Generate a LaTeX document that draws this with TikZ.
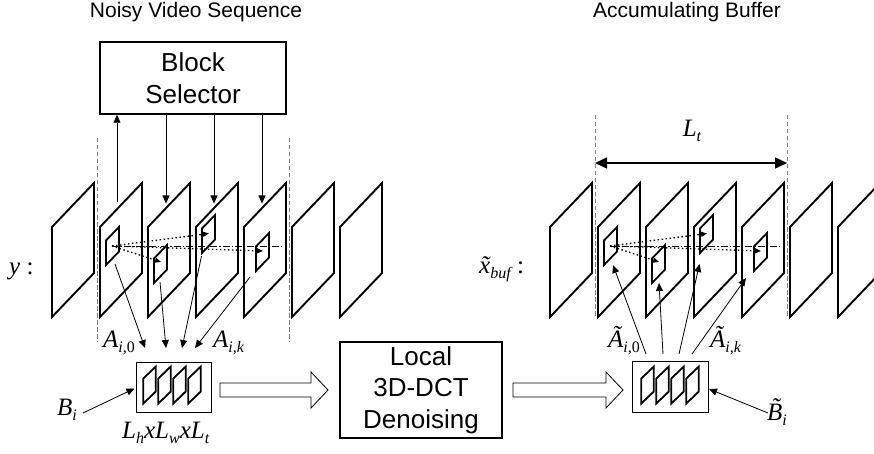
\documentclass[tikz,border=0pt]{standalone}
\usepackage{fontspec}
\setmainfont{Liberation Serif}
\newfontfamily\arialf{Liberation Sans}
\usetikzlibrary{arrows.meta}
\newcommand\Sb[1]{\raisebox{-0.2em}{\fontsize{16}{16}\selectfont #1}}
\begin{document}
\begin{tikzpicture}[x=1pt,y=-1pt,
  frame/.style={line width=1.9pt, line join=miter},
  blk/.style={line width=1.8pt, line join=miter},
  box/.style={draw, line width=1.5pt, font=\arialf\fontsize{26}{31.7}\selectfont, align=center, inner sep=0pt},
  sbox/.style={draw, line width=0.9pt, inner sep=0pt},
  arr/.style={line width=0.8pt, -{Triangle[length=8pt,width=7pt]}},
  dotarr/.style={line width=1.3pt, dash pattern=on 1.5pt off 2.5pt, -{Triangle[length=6pt,width=5pt]}},
  dashdot/.style={line width=0.9pt, dash pattern=on 7pt off 2pt on 1.3pt off 2pt},
  vdash/.style={draw=gray, line width=1pt, dash pattern=on 4.5pt off 2.5pt},
  hollow/.style={draw, line width=0.8pt, fill=white},
  mlab/.style={font=\fontsize{25}{25}\selectfont\itshape, anchor=base west, inner sep=0pt},
  ttl/.style={font=\arialf\fontsize{21}{21}\selectfont, anchor=base, inner sep=0pt},
]
\useasboundingbox (0,0) rectangle (874,454);
\clip (0,0) rectangle (874,454);

% titles
\node[ttl] (t1) at (196,17.5) {Noisy Video Sequence};
\node[ttl] (t2) at (687,17.5) {Accumulating Buffer};

% boxes
\node[box, minimum width=186pt, minimum height=72pt] (bs) at (193,78) {Block\\Selector};
\node[box, minimum width=162pt, minimum height=96pt] (loc) at (421,390) {Local\\3D-DCT\\Denoising};
\node[sbox, minimum width=75pt, minimum height=50pt] (sb) at (173.5,387) {};
\node[sbox, minimum width=76pt, minimum height=51pt] (tb) at (670,386.5) {};

% dashed window lines
\draw[vdash] (97,138) -- (97,342);
\draw[vdash] (289,138) -- (289,342);
\draw[vdash] (595,115) -- (595,318);
\draw[vdash] (787,115) -- (787,318);

% frames
\foreach \k in {0,...,6}{
  \draw[frame] (52+48*\k,317) -- ++(0,-90) -- ++(42,-44) -- ++(0,90) -- cycle;
  \draw[frame] (550+48*\k,317) -- ++(0,-90) -- ++(42,-44) -- ++(0,90) -- cycle;
}

% blocks, trajectories
\foreach \s in {0,498}{
  \foreach \bx/\by in {106/265,154/283,202/253,256/271}{
    \draw[blk] (\bx+\s,\by) -- ++(0,-24.5) -- ++(13,-13.5) -- ++(0,24.5) -- cycle;
  }
  \draw[dashdot] (112+\s,246) -- (282+\s,246);
  \draw[dotarr] (112+\s,246) -- (161+\s,262);
  \draw[dotarr] (112+\s,246) -- (209+\s,233.5);
  \draw[dotarr] (112+\s,246) -- (263+\s,251);
}

% mini frames in the stacks
\foreach \k in {0,...,3}{
  \draw[blk] (143.3+15*\k,403.5) -- ++(0,-25) -- ++(12.5,-12) -- ++(0,25) -- cycle;
  \draw[blk] (641.3+15*\k,403.5) -- ++(0,-25) -- ++(12.5,-12) -- ++(0,25) -- cycle;
}

% block selector arrows
\coordinate (u1) at (117,202);
\coordinate (d1) at (166,203.5);
\coordinate (d2) at (214,203.5);
\coordinate (d3) at (262,203.5);
\draw[arr] (u1) -- (u1 |- bs.south);
\draw[arr] (d1 |- bs.south) -- (d1);
\draw[arr] (d2 |- bs.south) -- (d2);
\draw[arr] (d3 |- bs.south) -- (d3);

% blocks to stack
\coordinate (a1) at (115,264);
\coordinate (a2) at (160,282);
\coordinate (a3) at (201.5,256);
\coordinate (a4) at (250,277);
\draw[arr] (a1) -- (145,348);
\draw[arr] (a2) -- (166,348);
\draw[arr] (a3) -- (182,348);
\draw[arr] (a4) -- (195,348);

% stack to buffer
\coordinate (b1) at (613,265);
\coordinate (b2) at (659,283);
\coordinate (b3) at (699.5,264);
\coordinate (b4) at (746,278);
\draw[arr] (646,354) -- (b1);
\draw[arr] (663,354) -- (b2);
\draw[arr] (679,354) -- (b3);
\draw[arr] (692,354) -- (b4);

% hollow arrows
\draw[hollow] (220,383) -- (311,383) -- (311,372) -- (328,390) -- (311,408) -- (311,397) -- (220,397) -- cycle;
\draw[hollow] (513,383) -- (606,383) -- (606,372) -- (623,390) -- (606,408) -- (606,397) -- (513,397) -- cycle;

% L_t arrow
\draw[line width=1.5pt, {Triangle[length=12pt,width=11pt]}-{Triangle[length=12pt,width=11pt]}] (595,163) -- (787,163);
\node[mlab, anchor=base] (lt) at (692,136.5) {L\Sb{t}};

% labels
\node[mlab] (ly) at (9,274) {y \upshape:};
\node[mlab] (lx) at (479,273) {\~{x}\Sb{buf} \upshape:};
\node[mlab] (la0) at (103,347) {A\Sb{i\upshape{,0}}};
\node[mlab] (lak) at (213,347) {A\Sb{i,k}};
\node[mlab] (lta0) at (608,347) {\~{A}\Sb{i\upshape{,0}}};
\node[mlab] (ltak) at (710,347) {\~{A}\Sb{i,k}};
\node[mlab] (lb) at (57,415) {B\Sb{i}};
\node[mlab] (ltb) at (767,420) {\~{B}\Sb{i}};
\node[mlab] (ldim) at (122,438) {L\Sb{h}xL\Sb{w}xL\Sb{t}};

\coordinate (bi) at (83,413);
\coordinate (tbi) at (768,413);
\draw[arr] (bi) -- (134.5,388.5);
\draw[arr] (tbi) -- (709,389);
\end{tikzpicture}
\end{document}
